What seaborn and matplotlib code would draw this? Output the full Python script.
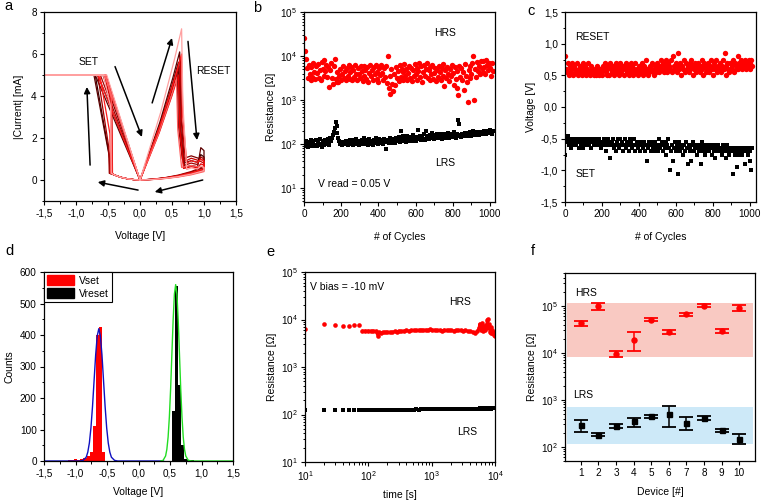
import numpy as np
import matplotlib
matplotlib.use('Agg')
import matplotlib.pyplot as plt
from matplotlib.patches import Patch
from matplotlib.ticker import FuncFormatter, MultipleLocator, LogLocator, NullFormatter
import seaborn as sns

sns.set_theme(style='ticks')
plt.rcParams['font.family'] = ['Liberation Sans', 'DejaVu Sans']
plt.rcParams.update({
    'mathtext.default': 'regular',
    'axes.edgecolor': 'black',
    'axes.linewidth': 0.9,
    'xtick.color': 'black',
    'ytick.color': 'black',
    'axes.labelcolor': 'black',
    'text.color': 'black',
    'xtick.labelsize': 7.2,
    'ytick.labelsize': 7.2,
    'axes.labelsize': 7.5,
})

# ---------------- panel a: I-V cycles ----------------
IV_COLORS = ['#3a0000', '#5c0000', '#800000', '#a30000', '#c80000', '#e60000', '#ff1a1a', '#ff5c5c', '#ffa0a0']
V_SET = [-0.47, -0.45, -0.44, -0.48, -0.44, -0.43, -0.46, -0.44, -0.45]
I_SET_JUMP = [1.2, 0.8, 3.8, 1.6, 3.7, 3.8, 2.2, 3.9, 3.5]
V_COMPLIANCE = [-0.70, -0.72, -0.55, -0.66, -0.56, -0.55, -0.63, -0.54, -0.57]
V_LRS_EXIT = [-0.66, -0.70, -0.58, -0.62, -0.55, -0.53, -0.66, -0.55, -0.52]
V_RESET = [0.60, 0.62, 0.58, 0.61, 0.63, 0.60, 0.65, 0.57, 0.65]
I_RESET = [5.6, 6.1, 5.2, 5.4, 5.8, 5.0, 6.0, 4.8, 7.2]
I_AFTER_RESET = [0.8, 0.6, 1.0, 0.7, 0.9, 0.55, 0.8, 0.6, 0.5]
I_END_RESET = [1.1, 1.4, 0.9, 1.0, 0.8, 0.7, 0.9, 0.6, 0.6]
I_HRS_1V = [0.55, 0.6, 0.5, 0.65, 0.45, 0.5, 0.55, 0.4, 0.45]
LRS_SHAPE_V = [0.0, 0.5, 0.83, 1.0]
LRS_SHAPE_I = [0.0, 0.45, 0.8, 1.0]
HRS_RET_V = [1.0, 0.8, 0.6, 0.4, 0.2, 0.0]
HRS_RET_FRAC = [1.0, 0.62, 0.36, 0.18, 0.06, 0.0]
NEG_HRS_V = [-0.1, -0.2, -0.3, -0.4]
NEG_HRS_I = [0.02, 0.06, 0.13, 0.24]
COMPLIANCE = 5.0

# ---------------- panel b: endurance ----------------
B_CYCLES = np.arange(0, 1020, 5)
B_HRS_KOHM = [
    25, 13, 8.5, 5.2, 3.1, 6.4, 4.0, 2.9, 5.6, 3.4, 7.0, 4.4,
    3.0, 5.8, 4.1, 6.6, 3.2, 4.8, 2.9, 7.2, 5.1, 3.6, 8.0, 4.5,
    6.2, 3.3, 5.5, 2.0, 4.7, 7.0, 3.1, 2.3, 5.9, 8.5, 3.0, 2.6,
    4.4, 2.5, 3.5, 5.0, 2.8, 3.9, 6.0, 3.2, 4.6, 2.9, 5.4, 3.6,
    6.1, 3.0, 4.3, 5.6, 2.8, 4.9, 3.4, 6.3, 3.9, 2.9, 5.2, 4.0,
    3.1, 5.8, 4.5, 2.7, 6.0, 3.6, 4.8, 3.0, 5.5, 2.6, 4.1, 6.2,
    3.5, 4.9, 2.8, 5.7, 3.9, 6.4, 3.0, 4.4, 2.6, 5.3, 3.7, 6.1,
    4.2, 2.9, 5.4, 3.3, 6.0, 2.4, 10.2, 1.9, 3.6, 1.4, 5.0, 2.3,
    1.6, 3.9, 2.2, 5.6, 3.1, 4.6, 2.7, 6.3, 3.4, 5.1, 2.9, 4.4,
    6.7, 3.5, 5.0, 2.8, 4.2, 6.0, 3.2, 5.4, 2.7, 4.8, 3.6, 6.5,
    3.9, 5.3, 2.9, 4.6, 7.0, 3.3, 5.8, 2.6, 4.3, 6.2, 3.5, 5.0,
    6.8, 3.1, 4.7, 2.8, 5.6, 3.8, 6.4, 3.0, 4.1, 5.3, 2.7, 4.9,
    3.4, 6.0, 4.4, 2.9, 5.2, 3.6, 6.6, 2.1, 4.8, 3.2, 5.7, 3.9,
    2.7, 5.0, 3.5, 6.2, 4.1, 2.2, 5.5, 3.0, 1.9, 4.6, 1.3, 6.0,
    3.3, 5.4, 2.8, 4.3, 1.7, 6.6, 3.6, 2.5, 0.9, 4.9, 3.1, 5.8,
    4.0, 6.9, 9.8, 1.0, 5.1, 3.4, 7.3, 4.5, 6.0, 3.8, 7.8, 5.2,
    4.3, 7.6, 5.6, 3.9, 8.0, 6.2, 4.7, 7.1, 5.3, 3.6, 6.8, 4.5,
]
B_LRS_OHM = [
    105, 92, 118, 98, 86, 110, 95, 125, 88, 102, 114, 90,
    97, 120, 88, 108, 95, 130, 100, 87, 115, 104, 93, 122,
    99, 110, 128, 95, 140, 118, 135, 160, 190, 230, 310, 260,
    180, 140, 115, 100, 108, 95, 112, 103, 98, 116, 106, 94,
    110, 120, 98, 105, 125, 96, 115, 108, 130, 100, 112, 97,
    118, 104, 126, 99, 112, 135, 101, 120, 108, 95, 128, 113,
    102, 118, 97, 124, 110, 135, 104, 115, 99, 128, 112, 106,
    120, 98, 132, 110, 78, 115, 125, 104, 118, 140, 108, 122,
    112, 130, 105, 138, 118, 125, 142, 110, 195, 128, 115, 148,
    122, 135, 112, 150, 128, 118, 145, 130, 115, 160, 125, 138,
    118, 142, 128, 210, 135, 150, 122, 145, 130, 165, 125, 200,
    140, 155, 128, 148, 162, 135, 175, 142, 130, 158, 145, 168,
    135, 150, 142, 165, 132, 158, 148, 172, 138, 155, 145, 180,
    140, 162, 150, 170, 145, 190, 155, 138, 165, 150, 350, 280,
    158, 145, 172, 160, 150, 182, 165, 148, 175, 158, 190, 168,
    155, 175, 200, 162, 180, 158, 185, 170, 160, 192, 175, 168,
    185, 165, 195, 178, 170, 200, 182, 175, 210, 188, 172, 195,
]

# ---------------- panel c: switching voltages ----------------
C_CYCLES = np.arange(0, 1020, 5)
C_RESET_V = [
    0.80, 0.60, 0.55, 0.70, 0.50, 0.65, 0.55, 0.60, 0.70, 0.50, 0.65, 0.60,
    0.55, 0.70, 0.50, 0.60, 0.65, 0.55, 0.50, 0.70, 0.60, 0.55, 0.65, 0.50,
    0.60, 0.70, 0.55, 0.50, 0.65, 0.60, 0.55, 0.50, 0.60, 0.55, 0.50, 0.65,
    0.55, 0.50, 0.60, 0.55, 0.50, 0.65, 0.60, 0.70, 0.55, 0.50, 0.60, 0.65,
    0.50, 0.70, 0.60, 0.55, 0.65, 0.50, 0.60, 0.70, 0.55, 0.65, 0.50, 0.60,
    0.70, 0.55, 0.60, 0.65, 0.50, 0.60, 0.70, 0.55, 0.65, 0.50, 0.60, 0.70,
    0.55, 0.65, 0.50, 0.60, 0.70, 0.55, 0.60, 0.50, 0.65, 0.60, 0.55, 0.70,
    0.60, 0.50, 0.65, 0.55, 0.75, 0.60, 0.50, 0.55, 0.65, 0.60, 0.70, 0.55,
    0.50, 0.60, 0.65, 0.55, 0.70, 0.60, 0.55, 0.65, 0.75, 0.60, 0.70, 0.55,
    0.65, 0.75, 0.60, 0.55, 0.70, 0.65, 0.60, 0.75, 0.55, 0.80, 0.65, 0.60,
    0.70, 0.55, 0.65, 0.85, 0.60, 0.70, 0.50, 0.65, 0.60, 0.75, 0.55, 0.70,
    0.60, 0.65, 0.55, 0.70, 0.60, 0.75, 0.65, 0.50, 0.60, 0.70, 0.55, 0.65,
    0.70, 0.60, 0.55, 0.65, 0.75, 0.60, 0.50, 0.70, 0.65, 0.55, 0.60, 0.70,
    0.55, 0.65, 0.75, 0.60, 0.50, 0.70, 0.65, 0.60, 0.75, 0.55, 0.65, 0.60,
    0.70, 0.55, 0.65, 0.75, 0.60, 0.85, 0.50, 0.65, 0.70, 0.60, 0.55, 0.70,
    0.60, 0.65, 0.75, 0.55, 0.70, 0.60, 0.65, 0.80, 0.60, 0.70, 0.65, 0.75,
    0.60, 0.70, 0.65, 0.75, 0.60, 0.70, 0.65, 0.75, 0.70, 0.60, 0.75, 0.65,
]
C_SET_V = [
    -0.75, -0.50, -0.55, -0.45, -0.60, -0.50, -0.55, -0.65, -0.50, -0.60, -0.55, -0.50,
    -0.60, -0.55, -0.50, -0.65, -0.55, -0.60, -0.50, -0.55, -0.65, -0.50, -0.60, -0.55,
    -0.50, -0.55, -0.60, -0.50, -0.65, -0.55, -0.50, -0.60, -0.55, -0.50, -0.60, -0.55,
    -0.60, -0.50, -0.55, -0.65, -0.60, -0.55, -0.50, -0.60, -0.70, -0.55, -0.60, -0.50,
    -0.55, -0.80, -0.60, -0.55, -0.50, -0.65, -0.60, -0.70, -0.55, -0.50, -0.60, -0.65,
    -0.50, -0.60, -0.55, -0.70, -0.60, -0.50, -0.65, -0.55, -0.60, -0.70, -0.50, -0.60,
    -0.55, -0.65, -0.60, -0.50, -0.70, -0.60, -0.55, -0.65, -0.60, -0.70, -0.55, -0.60,
    -0.65, -0.60, -0.55, -0.70, -0.60, -0.85, -0.65, -0.55, -0.60, -0.70, -0.55, -0.65,
    -0.60, -0.70, -0.55, -0.65, -0.60, -0.70, -0.50, -0.65, -0.60, -0.55, -0.70, -0.60,
    -0.65, -0.55, -0.75, -0.60, -0.50, -0.65, -1.00, -0.70, -0.60, -0.85, -0.65, -0.55,
    -0.70, -0.60, -1.05, -0.65, -0.55, -0.70, -0.60, -0.65, -0.75, -0.60, -0.70, -0.55,
    -0.65, -0.90, -0.60, -0.70, -0.65, -0.85, -0.60, -0.55, -0.70, -0.65, -0.60, -0.75,
    -0.65, -0.70, -0.60, -0.90, -0.65, -0.55, -0.70, -0.60, -0.75, -0.65, -0.70, -0.60,
    -0.70, -0.65, -0.60, -0.75, -0.65, -0.70, -0.60, -0.80, -0.65, -0.70, -0.60, -0.65,
    -0.70, -0.65, -0.75, -0.60, -0.70, -0.65, -0.80, -0.70, -0.60, -0.65, -0.75, -0.70,
    -0.65, -0.70, -1.05, -0.65, -0.75, -0.70, -0.95, -0.65, -0.70, -0.75, -0.65, -0.70,
    -0.75, -0.65, -0.70, -0.90, -0.65, -0.70, -0.75, -0.65, -0.85, -0.70, -1.00, -0.65,
]

# ---------------- panel d: histograms ----------------
D_BIN_WIDTH = 0.05
D_VSET_CENTERS = [-1.10, -1.05, -1.00, -0.95, -0.90, -0.85, -0.80, -0.75, -0.70, -0.65, -0.60, -0.55]
D_VSET_COUNTS = [4, 4, 5, 4, 5, 8, 15, 30, 110, 400, 425, 30]
D_VRESET_CENTERS = [0.55, 0.60, 0.65, 0.70, 0.75, 0.80, 0.85]
D_VRESET_COUNTS = [160, 555, 240, 50, 5, 4, 4]
D_FIT_SET_V = [-1.5, -0.93, -0.88, -0.83, -0.805, -0.78, -0.755, -0.73, -0.705, -0.68, -0.655, -0.63,
               -0.605, -0.58, -0.555, -0.53, -0.505, -0.48, -0.455, -0.43, -0.38, -0.33, 0.40]
D_FIT_SET_C = [0, 0, 2, 12, 28, 57, 105, 173, 255, 337, 397, 420,
               397, 337, 255, 173, 105, 57, 28, 12, 2, 0, 0]
D_FIT_RESET_V = [0.35, 0.39, 0.43, 0.45, 0.47, 0.49, 0.51, 0.53, 0.55, 0.57, 0.59, 0.61,
                 0.63, 0.65, 0.67, 0.69, 0.71, 0.73, 0.75, 0.79, 0.85, 1.5]
D_FIT_RESET_C = [0, 2, 16, 37, 76, 140, 230, 340, 448, 530, 560, 530,
                 448, 340, 230, 140, 76, 37, 16, 2, 0, 0]

# ---------------- panel e: retention ----------------
E_TIME = [10, 20, 30, 40, 50, 60, 70, 80, 90, 100, 110, 120, 130, 140, 150, 160, 170, 180,
          200, 220, 240, 260, 280, 300,
          330, 360, 400, 440, 480, 520, 570, 620, 680, 740, 800, 870, 950,
          1030, 1120, 1220, 1330, 1450, 1580, 1720, 1870, 2040, 2220, 2420, 2640, 2880, 3140,
          3420, 3730, 4060, 4430, 4830, 5260,
          5500, 5700, 5900, 6100, 6300, 6500, 6700, 6900, 7100, 7300, 7500, 7700, 7900,
          8100, 8300, 8500, 8700, 8900, 9100, 9300, 9500, 9700, 9900]
E_HRS = [6200, 8200, 7600, 7300, 7300, 7500, 7600, 5800, 5800, 5800, 5750, 5800, 5700, 4600, 5400, 5300, 5400, 5450,
         5500, 5400, 5500, 5600, 5500, 5800,
         5700, 5800, 5900, 5800, 6000, 5900, 6000, 6000, 6100, 6000, 6100, 6000, 6200,
         6000, 6100, 5900, 6000, 5800, 6100, 5900, 6000, 5900, 5800, 6000, 5900, 6000, 5800,
         5900, 5700, 5600, 5500, 5300, 5600,
         6500, 8200, 7000, 6000, 8500, 5600, 7200, 6000, 6600, 7600, 9600, 10200, 6500,
         8000, 5500, 6800, 5300, 6000, 5200, 5500, 5000, 4800, 4500]
E_LRS = [122, 123, 122, 123, 124, 124, 125, 124, 125, 125, 124, 125, 125, 124, 125, 126, 125, 125,
         125, 126, 125, 126, 126, 127,
         126, 127, 127, 126, 127, 127, 128, 127, 128, 128, 128, 129, 129,
         129, 128, 130, 129, 130, 130, 131, 130, 131, 131, 130, 132, 131, 132,
         132, 131, 132, 133, 132, 133,
         133, 132, 134, 133, 134, 133, 132, 134, 133, 134, 135, 134, 133,
         134, 135, 134, 133, 135, 134, 135, 134, 135, 134]

# ---------------- panel f: device to device ----------------
F_DEVICE = [1, 2, 3, 4, 5, 6, 7, 8, 9, 10]
F_HRS_MEAN = [42500, 100000, 9400, 19000, 51000, 28000, 67000, 100000, 29000, 90000]
F_HRS_LOW = [38000, 80000, 8300, 11000, 47500, 25000, 60000, 94000, 26500, 77000]
F_HRS_HIGH = [47600, 116000, 10700, 27400, 55000, 31000, 72000, 107000, 32000, 103000]
F_LRS_MEAN = [296, 182, 278, 348, 444, 490, 327, 410, 225, 150]
F_LRS_LOW = [208, 170, 256, 265, 410, 265, 225, 372, 208, 117]
F_LRS_HIGH = [367, 198, 301, 417, 474, 724, 430, 452, 240, 185]
F_HRS_BAND = (8200, 116000)
F_LRS_BAND = (117, 700)

RED = '#ff0000'
W, H = 765, 504


def comma(fmt):
    return FuncFormatter(lambda v, p: format(v, fmt).replace('.', ','))


def style_axes(ax):
    ax.tick_params(which='major', direction='out', length=3.2, width=0.8, top=False, right=False, pad=2)
    ax.tick_params(which='minor', direction='out', length=1.8, width=0.7, top=False, right=False)
    for s in ax.spines.values():
        s.set_visible(True)
        s.set_color('black')


def add_axes(fig, left, top, right, bottom):
    return fig.add_axes([left / W, 1 - bottom / H, (right - left) / W, (bottom - top) / H])


def iv_cycle(k):
    vr, ir = V_RESET[k], I_RESET[k]
    v = [f * vr for f in LRS_SHAPE_V]
    i = [f * ir for f in LRS_SHAPE_I]
    v += [vr + 0.02, vr + 0.08, 0.8, 0.9, 0.95, 1.0]
    i += [ir * 0.5, I_AFTER_RESET[k], I_AFTER_RESET[k] * 1.15, I_AFTER_RESET[k] * 1.05, I_END_RESET[k] * 1.1, I_END_RESET[k]]
    v += HRS_RET_V
    i += [f * I_HRS_1V[k] for f in HRS_RET_FRAC]
    v += NEG_HRS_V
    i += NEG_HRS_I
    v += [V_SET[k], V_SET[k] - 0.01, V_COMPLIANCE[k], -1.5, V_LRS_EXIT[k], 0.0]
    i += [0.32, I_SET_JUMP[k], COMPLIANCE, COMPLIANCE, COMPLIANCE, 0.0]
    return v, i


def arrow(ax, tail, head):
    ax.annotate('', xy=head, xytext=tail,
                arrowprops=dict(arrowstyle='-|>', color='black', lw=1.1, mutation_scale=9, shrinkA=0, shrinkB=0))


fig = plt.figure(figsize=(W / 100, H / 100), dpi=100)

# a
ax = add_axes(fig, 44, 12, 236, 201)
for k in range(len(IV_COLORS)):
    v, i = iv_cycle(k)
    sns.lineplot(x=v, y=i, ax=ax, sort=False, estimator=None, color=IV_COLORS[k], lw=0.9)
ax.set_xlim(-1.5, 1.5)
ax.set_ylim(-1, 8)
ax.xaxis.set_major_locator(MultipleLocator(0.5))
ax.xaxis.set_minor_locator(MultipleLocator(0.25))
ax.xaxis.set_major_formatter(comma('.1f'))
ax.yaxis.set_major_locator(MultipleLocator(2))
ax.yaxis.set_minor_locator(MultipleLocator(1))
ax.set_xlabel('Voltage [V]', labelpad=9)
ax.set_ylabel('|Current| [mA]', labelpad=5)
arrow(ax, (0.19, 3.67), (0.50, 6.76))
arrow(ax, (-0.39, 5.4), (0.03, 2.05))
arrow(ax, (0.75, 6.6), (0.89, 1.9))
arrow(ax, (0.98, 0.0), (0.23, -0.57))
arrow(ax, (-0.03, -0.48), (-0.66, -0.1))
arrow(ax, (-0.78, 0.71), (-0.83, 4.43))
ax.text(-0.81, 5.6, 'SET', ha='center', va='center', fontsize=7.5)
ax.text(1.14, 5.2, 'RESET', ha='center', va='center', fontsize=7.5)
style_axes(ax)

# b
ax = add_axes(fig, 304, 12, 495, 202)
sns.scatterplot(x=B_CYCLES, y=np.array(B_HRS_KOHM) * 1000, ax=ax, color=RED, marker='o', s=15, linewidth=0)
sns.scatterplot(x=B_CYCLES, y=B_LRS_OHM, ax=ax, color='black', marker='s', s=12, linewidth=0)
ax.set_yscale('log')
ax.set_ylim(4.8, 1e5)
ax.set_xlim(0, 1027)
ax.xaxis.set_major_locator(MultipleLocator(200))
ax.xaxis.set_minor_locator(MultipleLocator(100))
ax.yaxis.set_major_locator(LogLocator(base=10, numticks=10))
ax.yaxis.set_minor_locator(LogLocator(base=10, subs=np.arange(2, 10), numticks=20))
ax.yaxis.set_minor_formatter(NullFormatter())
ax.set_xlabel('# of Cycles', labelpad=9)
ax.set_ylabel('Resistance [Ω]', labelpad=3)
ax.text(757, 33000, 'HRS', ha='center', va='center', fontsize=7.5)
ax.text(757, 37, 'LRS', ha='center', va='center', fontsize=7.5)
ax.text(74, 12, 'V read = 0.05 V', ha='left', va='center', fontsize=7.5)
style_axes(ax)

# c
ax = add_axes(fig, 565, 12, 756, 202)
sns.scatterplot(x=C_CYCLES, y=C_RESET_V, ax=ax, color=RED, marker='o', s=15, linewidth=0)
sns.scatterplot(x=C_CYCLES, y=C_SET_V, ax=ax, color='black', marker='s', s=12, linewidth=0)
ax.set_xlim(0, 1035)
ax.set_ylim(-1.5, 1.5)
ax.xaxis.set_major_locator(MultipleLocator(200))
ax.xaxis.set_minor_locator(MultipleLocator(100))
ax.yaxis.set_major_locator(MultipleLocator(0.5))
ax.yaxis.set_minor_locator(MultipleLocator(0.25))
ax.yaxis.set_major_formatter(comma('.1f'))
ax.set_xlabel('# of Cycles', labelpad=9)
ax.set_ylabel('Voltage [V]', labelpad=3)
ax.text(148, 1.1, 'RESET', ha='center', va='center', fontsize=7.5)
ax.text(110, -1.06, 'SET', ha='center', va='center', fontsize=7.5)
style_axes(ax)

# d
ax = add_axes(fig, 44, 272, 233, 461)
ax.bar(D_VSET_CENTERS, D_VSET_COUNTS, width=D_BIN_WIDTH, color=RED, linewidth=0)
ax.bar(D_VRESET_CENTERS, D_VRESET_COUNTS, width=D_BIN_WIDTH, color='black', linewidth=0)
sns.lineplot(x=D_FIT_SET_V, y=D_FIT_SET_C, ax=ax, sort=False, estimator=None, color='#1010c0', lw=1.0)
sns.lineplot(x=D_FIT_RESET_V, y=D_FIT_RESET_C, ax=ax, sort=False, estimator=None, color='#22dd22', lw=1.0)
ax.set_xlim(-1.5, 1.5)
ax.set_ylim(0, 600)
ax.xaxis.set_major_locator(MultipleLocator(0.5))
ax.xaxis.set_minor_locator(MultipleLocator(0.25))
ax.xaxis.set_major_formatter(comma('.1f'))
ax.yaxis.set_major_locator(MultipleLocator(100))
ax.yaxis.set_minor_locator(MultipleLocator(50))
ax.set_xlabel('Voltage [V]', labelpad=6)
ax.set_ylabel('Counts', labelpad=4)
leg = ax.legend(handles=[Patch(color=RED, label='Vset'), Patch(color='black', label='Vreset')],
                loc='upper left', borderaxespad=0, fancybox=False, framealpha=1, edgecolor='black',
                fontsize=7.5, handlelength=2.6, handleheight=1.1, borderpad=0.3, labelspacing=0.25,
                handletextpad=0.5)
leg.get_frame().set_linewidth(0.8)
style_axes(ax)

# e
ax = add_axes(fig, 305, 272, 495, 462)
sns.lineplot(x=E_TIME[7:], y=E_HRS[7:], ax=ax, sort=False, estimator=None, color=RED, lw=1.6)
sns.scatterplot(x=E_TIME, y=E_HRS, ax=ax, color=RED, marker='o', s=11, linewidth=0)
sns.lineplot(x=E_TIME[7:], y=E_LRS[7:], ax=ax, sort=False, estimator=None, color='black', lw=1.6)
sns.scatterplot(x=E_TIME, y=E_LRS, ax=ax, color='black', marker='s', s=9, linewidth=0)
ax.set_xscale('log')
ax.set_yscale('log')
ax.set_xlim(10, 1e4)
ax.set_ylim(10, 1e5)
for axis in (ax.xaxis, ax.yaxis):
    axis.set_major_locator(LogLocator(base=10, numticks=10))
    axis.set_minor_locator(LogLocator(base=10, subs=np.arange(2, 10), numticks=20))
    axis.set_minor_formatter(NullFormatter())
ax.set_xlabel('time [s]', labelpad=5)
ax.set_ylabel('Resistance [Ω]', labelpad=3)
ax.text(12, 48000, 'V bias = -10 mV', ha='left', va='center', fontsize=7.5)
ax.text(2800, 23000, 'HRS', ha='center', va='center', fontsize=7.5)
ax.text(3700, 43, 'LRS', ha='center', va='center', fontsize=7.5)
style_axes(ax)

# f
ax = add_axes(fig, 565, 273, 755, 461)
ax.axhspan(*F_HRS_BAND, xmin=0.01, xmax=0.99, color='#f9c9c2', lw=0)
ax.axhspan(*F_LRS_BAND, xmin=0.01, xmax=0.99, color='#cde9f8', lw=0)
hrs_err = [np.array(F_HRS_MEAN) - np.array(F_HRS_LOW), np.array(F_HRS_HIGH) - np.array(F_HRS_MEAN)]
lrs_err = [np.array(F_LRS_MEAN) - np.array(F_LRS_LOW), np.array(F_LRS_HIGH) - np.array(F_LRS_MEAN)]
ax.errorbar(F_DEVICE, F_HRS_MEAN, yerr=hrs_err, fmt='o', color=RED, ms=3.6, capsize=4.7, capthick=1.3, elinewidth=1.1)
ax.errorbar(F_DEVICE, F_LRS_MEAN, yerr=lrs_err, fmt='s', color='black', ms=3.6, capsize=4.7, capthick=1.3, elinewidth=1.1)
ax.set_yscale('log')
ax.set_ylim(50, 5e5)
ax.set_xlim(0.1, 10.9)
ax.set_xticks(F_DEVICE)
ax.yaxis.set_major_locator(LogLocator(base=10, numticks=10))
ax.yaxis.set_minor_locator(LogLocator(base=10, subs=np.arange(2, 10), numticks=20))
ax.yaxis.set_minor_formatter(NullFormatter())
ax.set_xlabel('Device [#]', labelpad=6)
ax.set_ylabel('Resistance [Ω]', labelpad=3)
ax.text(0.67, 190000, 'HRS', ha='left', va='center', fontsize=7.5)
ax.text(0.55, 1260, 'LRS', ha='left', va='center', fontsize=7.5)
style_axes(ax)

for letter, (px, py) in zip('abcdef', [(8, 6), (257, 8), (531, 11), (9, 251), (270, 252), (533, 251)]):
    fig.text(px / W, 1 - py / H, letter, fontsize=10.5, ha='center', va='center')

fig.savefig('out.png', dpi=100)
